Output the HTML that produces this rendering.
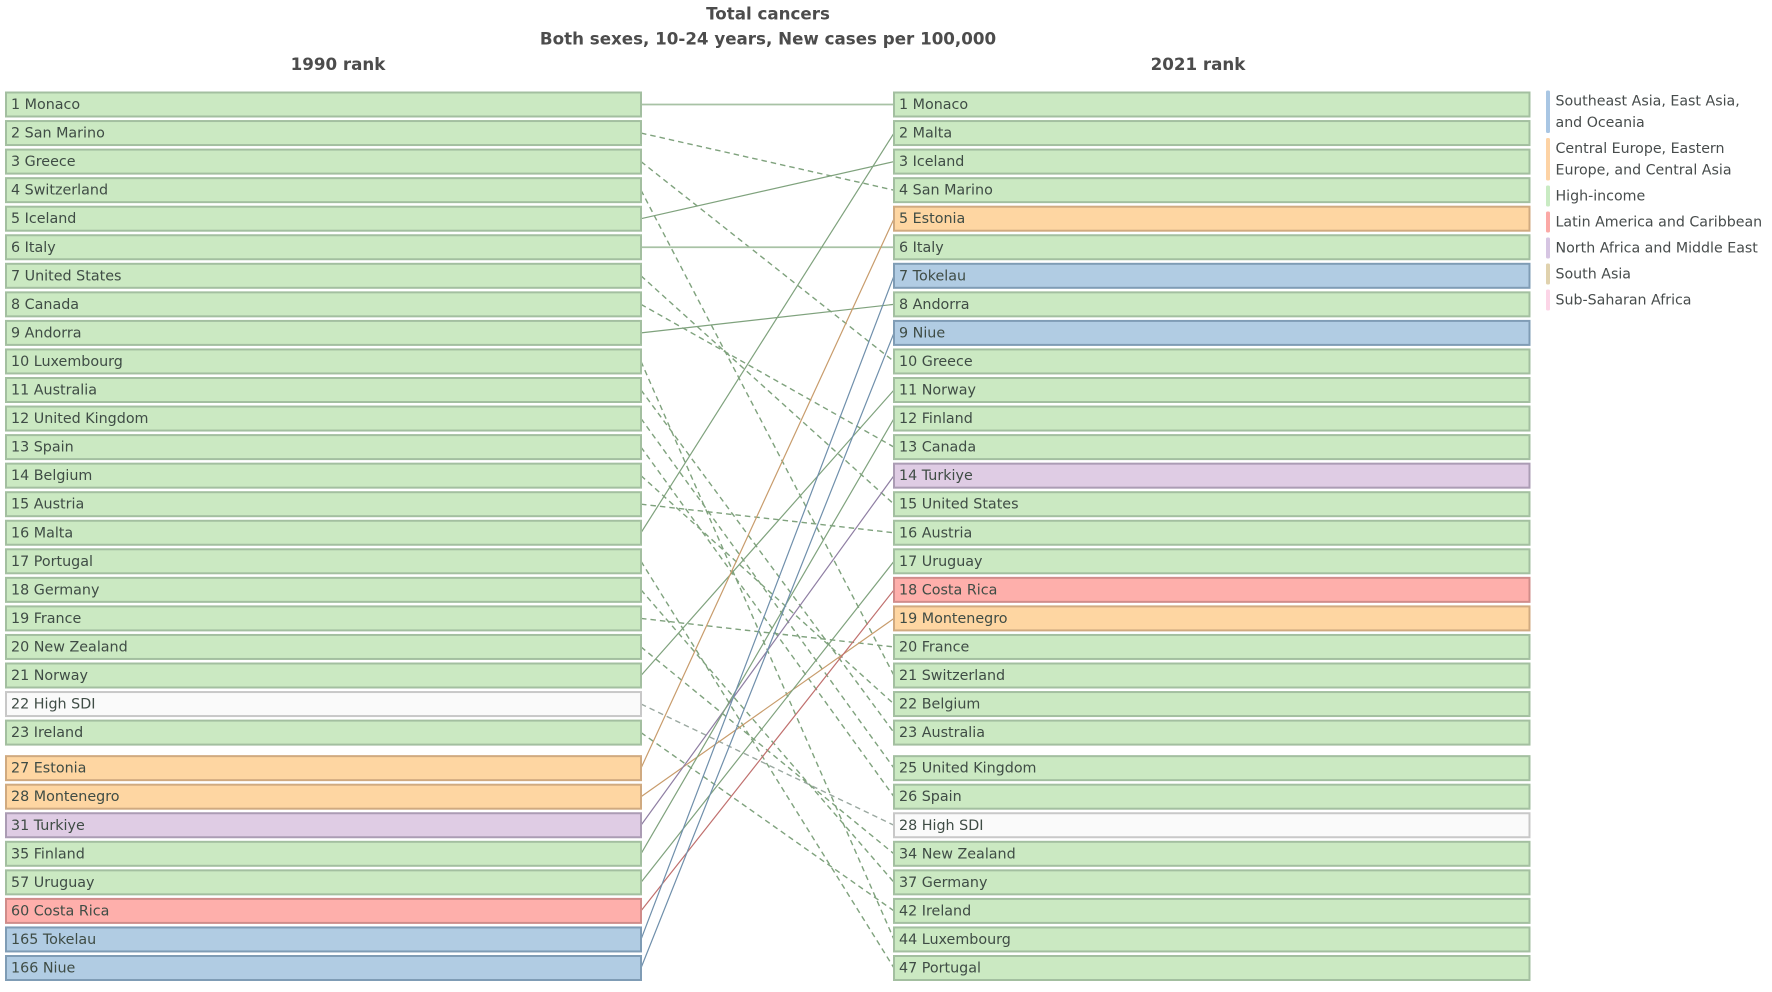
<!DOCTYPE html>
<html lang="en">
<head>
<meta charset="utf-8">
<title>Total cancers rank chart</title>
<style>
  html, body { margin: 0; padding: 0; background: #ffffff; }
  body { width: 1772px; height: 992px; overflow: hidden; }
  svg { display: block; font-family: "DejaVu Sans", "Liberation Sans", sans-serif; }
  .title { font-weight: bold; font-size: 16.7px; fill: #4c4c4c; text-anchor: middle; }
  .bar-label { font-size: 14.3px; fill: #3f4c45; }
  .legend-label { font-size: 14.2px; fill: #474c4c; }
</style>
</head>
<body>
<svg id="chart" width="1772" height="992" viewBox="0 0 1772 992" xmlns="http://www.w3.org/2000/svg">
  <text class="title" x="768" y="19.5">Total cancers</text>
  <text class="title" x="768" y="44.5">Both sexes, 10-24 years, New cases per 100,000</text>
  <text class="title" x="338" y="70">1990 rank</text>
  <text class="title" x="1198" y="70">2021 rank</text>
  <g id="links"></g>
  <g id="left-bars"></g>
  <g id="right-bars"></g>
  <g id="legend"></g>
</svg>
<script>
// ---- data ----
const locations = ["Monaco","San Marino","Greece","Switzerland","Iceland","Italy","United States","Canada","Andorra","Luxembourg","Australia","United Kingdom","Spain","Belgium","Austria","Malta","Portugal","Germany","France","New Zealand","Norway","High SDI","Ireland","Estonia","Montenegro","Turkiye","Finland","Uruguay","Costa Rica","Tokelau","Niue"];
const rank1990 = [1,2,3,4,5,6,7,8,9,10,11,12,13,14,15,16,17,18,19,20,21,22,23,27,28,31,35,57,60,165,166];
const rank2021 = [1,4,10,21,3,6,15,13,8,44,23,25,26,22,16,2,47,37,20,34,11,28,42,5,19,14,12,17,18,7,9];
const regionOf = ["high","high","high","high","high","high","high","high","high","high","high","high","high","high","high","high","high","high","high","high","high","sdi","high","ceeca","ceeca","nafme","high","high","latam","seao","seao"];
const legendKeys = ["seao","ceeca","high","latam","nafme","sasia","ssa"];
const legendLabels = [["Southeast Asia, East Asia,","and Oceania"],["Central Europe, Eastern","Europe, and Central Asia"],["High-income"],["Latin America and Caribbean"],["North Africa and Middle East"],["South Asia"],["Sub-Saharan Africa"]];

// ---- styles ----
const fills   = {seao:"#b1cce3", ceeca:"#fed6a2", high:"#cbe9c2", latam:"#feafab", nafme:"#dfcce4", sasia:"#e0d2ae", ssa:"#fbd3e6", sdi:"#fafafa"};
const borders = {seao:"#7f9cb5", ceeca:"#d0aa80", high:"#a3bfa0", latam:"#d08c8a", nafme:"#ab9cb4", sasia:"#b8aa8c", ssa:"#d0a8bc", sdi:"#c8c8c8"};
const lines   = {seao:"#6f8fab", ceeca:"#c89c6c", high:"#7fa27d", latam:"#c0706e", nafme:"#8f7ea3", sasia:"#a89870", ssa:"#c090a8", sdi:"#9aa8a0"};
const swatches = {seao:"#a9c6e3", ceeca:"#fdd3a5", high:"#c9ebc3", latam:"#fba9a6", nafme:"#d6c5e2", sasia:"#e0d2ae", ssa:"#fcd5e7"};

// ---- axis functions ----
const barTop = 92.5, rowPitch = 28.55, barHeight = 24, breakAfter = 23, breakGap = 7;
const leftX0 = 6, leftX1 = 641, rightX0 = 894, rightX1 = 1529.5;
function slotTop(slot) { return barTop + slot * rowPitch + (slot >= breakAfter ? breakGap : 0); }
function slotCenter(slot) { return slotTop(slot) + barHeight / 2; }
function slotsFor(ranks) {
  const order = ranks.map((r, i) => i).sort((a, b) => ranks[a] - ranks[b]);
  const slots = [];
  order.forEach((loc, slot) => { slots[loc] = slot; });
  return slots;
}

const NS = "http://www.w3.org/2000/svg";
function make(tag, attrs, parent) {
  const el = document.createElementNS(NS, tag);
  for (const k in attrs) el.setAttribute(k, attrs[k]);
  parent.appendChild(el);
  return el;
}

const slots1990 = slotsFor(rank1990);
const slots2021 = slotsFor(rank2021);

// ---- connecting lines ----
const linkGroup = document.getElementById("links");
locations.forEach((name, i) => {
  const falling = rank2021[i] > rank1990[i];
  const flat = slots1990[i] === slots2021[i];
  const line = make("line", {
    x1: leftX1, y1: slotCenter(slots1990[i]),
    x2: rightX0, y2: slotCenter(slots2021[i]),
    stroke: flat ? "#a8c2a5" : lines[regionOf[i]],
    "stroke-width": flat ? 1.8 : (falling ? 1.4 : 1.2),
    "stroke-dasharray": falling ? "5.5 4" : "none",
    fill: "none"
  }, linkGroup);
  
  
});

// ---- bars ----
function drawColumn(groupId, ranks, slots, x0, x1) {
  const group = document.getElementById(groupId);
  locations.forEach((name, i) => {
    const g = make("g", {}, group);
    
    
    const rect = make("rect", {
      x: x0, y: slotTop(slots[i]), width: x1 - x0, height: barHeight,
      fill: fills[regionOf[i]], stroke: borders[regionOf[i]], "stroke-width": 2
    }, g);
    
    
    const label = make("text", { x: x0 + 5, y: slotCenter(slots[i]) + 4.5, class: "bar-label" }, g);
    
    
    label.textContent = ranks[i] + " " + name;
  });
}
drawColumn("left-bars", rank1990, slots1990, leftX0, leftX1);
drawColumn("right-bars", rank2021, slots2021, rightX0, rightX1);

// ---- legend ----
const legendGroup = document.getElementById("legend");
let legendY = 90.5;
legendKeys.forEach((key, k) => {
  const g = make("g", {}, legendGroup);
  
  
  const rows = legendLabels[k];
  const h = rows.length === 2 ? 42.5 : 21;
  const swatch = make("rect", { x: 1546, y: legendY, width: 4, height: h, rx: 1.5, fill: swatches[key] }, g);
  
  
  rows.forEach((row, r) => {
    const t = make("text", { x: 1555.5, y: legendY + 15 + r * 21.3, class: "legend-label" }, g);
    
    
    t.textContent = row;
  });
  legendY += h + 5;
});
</script>
</body>
</html>
